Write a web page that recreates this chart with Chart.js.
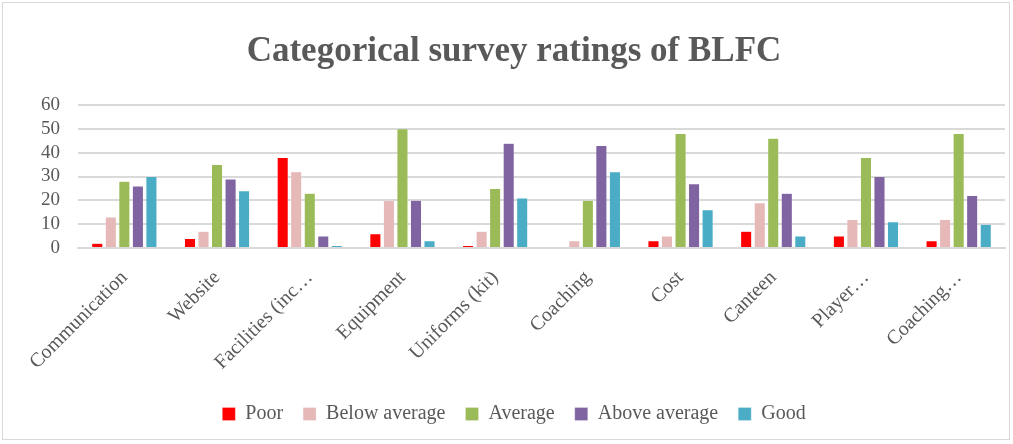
<!DOCTYPE html>
<html>
<head>
<meta charset="utf-8">
<script src="https://cdn.jsdelivr.net/npm/chart.js@4/dist/chart.umd.min.js"></script>
<style>
  html, body { margin: 0; padding: 0; background: #fff; }
  #wrap { position: absolute; left: 2px; top: 2px; width: 1006px; height: 436px; border: 1px solid #d9d9d9; }
  canvas { display: block; }
</style>
</head>
<body>
<div id="wrap"><canvas id="ratings"></canvas></div>
<script>
const categories = ["Communication", "Website", "Facilities (inc\u2026", "Equipment", "Uniforms (kit)",
  "Coaching", "Cost", "Canteen", "Player\u2026", "Coaching\u2026"];
const poor         = [2, 4, 38, 6, 1, 0, 3, 7, 5, 3];
const belowAverage = [13, 7, 32, 20, 7, 3, 5, 19, 12, 12];
const average      = [28, 35, 23, 50, 25, 20, 48, 46, 38, 48];
const aboveAverage = [26, 29, 5, 20, 44, 43, 27, 23, 30, 22];
const good         = [30, 24, 1, 3, 21, 32, 16, 5, 11, 10];
const yTicks = [0, 10, 20, 30, 40, 50, 60];

const serif = "'Liberation Serif', 'DejaVu Serif', serif";
const grey = "#595959";

function series(label, data, color) {
  return { label, data, backgroundColor: color, borderColor: "rgba(255,255,255,0.5)", borderWidth: 0.5,
    categoryPercentage: 0.73, barPercentage: 0.82 };
}

const wrap = document.getElementById("wrap");
const canvas = document.getElementById("ratings");
canvas.width = wrap.clientWidth;
canvas.height = wrap.clientHeight;

new Chart(canvas, {
  type: "bar",
  data: {
    labels: categories,
    datasets: [
      series("Poor", poor, "#ff0000"),
      series("Below average", belowAverage, "#e6b9b8"),
      series("Average", average, "#9bbb59"),
      series("Above average", aboveAverage, "#8064a2"),
      series("Good", good, "#4bacc6"),
    ],
  },
  options: {
    responsive: false,
    animation: false,
    layout: { padding: { left: 20, right: 4, top: 0, bottom: 5 } },
    plugins: {
      tooltip: { enabled: false },
      title: {
        display: true,
        text: "Categorical survey ratings of BLFC",
        color: grey,
        font: { family: serif, size: 35, weight: "bold" },
        padding: { top: 28, bottom: 32 },
      },
      legend: {
        position: "bottom",
        labels: {
          color: grey,
          font: { family: serif, size: 20 },
          boxWidth: 13,
          boxHeight: 13,
          padding: 20,
        },
      },
    },
    scales: {
      x: {
        grid: { display: false },
        border: { color: "#d9d9d9", width: 2 },
        afterFit: (axis) => { axis.height = 136; },
        ticks: {
          color: grey,
          font: { family: serif, size: 20 },
          maxRotation: 45,
          minRotation: 45,
          autoSkip: false,
          padding: 10,
        },
      },
      y: {
        min: 0,
        max: 60,
        afterBuildTicks: (axis) => { axis.ticks = yTicks.map((v) => ({ value: v })); },
        grid: { color: "#d9d9d9", lineWidth: 2, drawTicks: false },
        border: { display: false },
        ticks: {
          color: grey,
          font: { family: serif, size: 19 },
          padding: 18,
          autoSkip: false,
        },
      },
    },
  },
});
</script>
</body>
</html>
